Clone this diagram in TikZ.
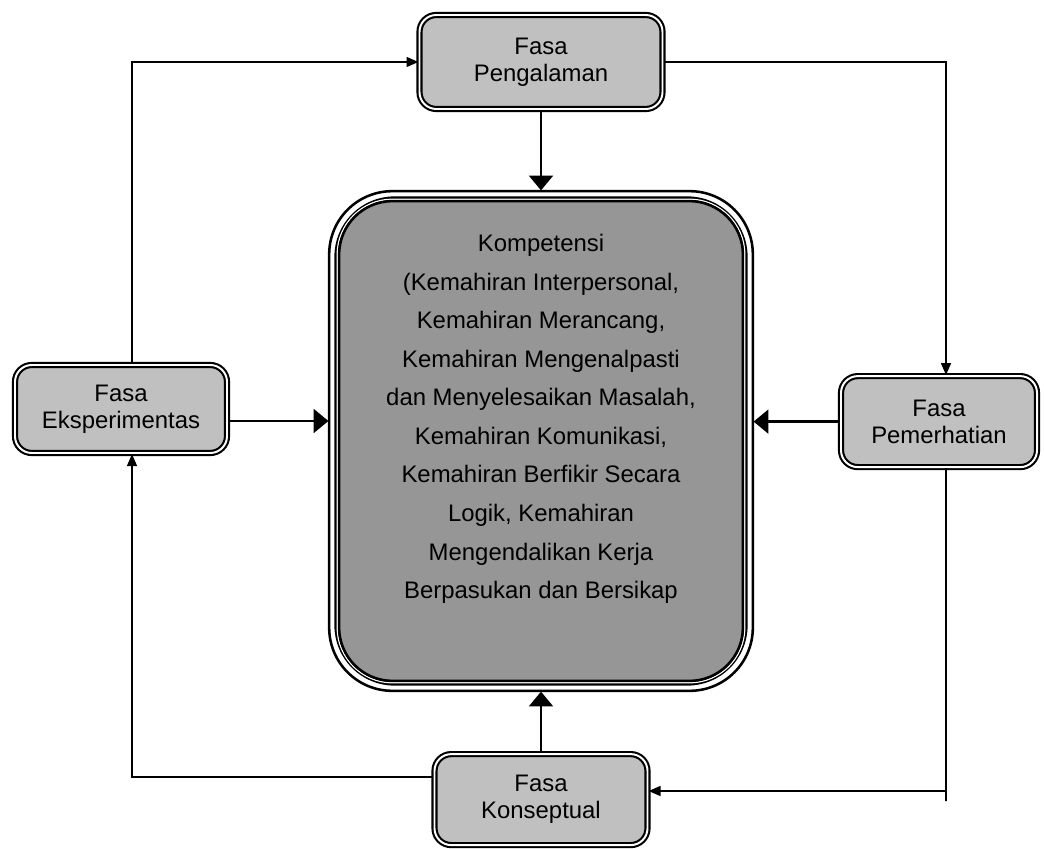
\documentclass[tikz,border=0pt]{standalone}
\usepackage{fontspec}
\setmainfont{Liberation Sans}
\usepackage{tikz}
\usetikzlibrary{arrows.meta,positioning,calc}
\usepackage{xcolor}
\definecolor{fasaGray}{RGB}{192,192,192}
\definecolor{kompGray}{RGB}{150,150,150}

\begin{document}
\begin{tikzpicture}[
  fasa/.style={draw=black,double=white,double distance=1.4pt,line width=1.5pt,
               fill=fasaGray,rounded corners=0.42cm,align=center,inner sep=2pt,
               font=\fontsize{17pt}{19.2pt}\selectfont},
  kompetensi/.style={draw=black,line width=3pt,fill=kompGray,rounded corners=1.45cm,
               minimum width=10.225cm,minimum height=12.125cm},
  looparrow/.style={-{Triangle[length=8.5pt,width=7pt]},line width=1.3pt},
  loopline/.style={line width=1.3pt},
  bigarrow/.style={-{Triangle[length=10.5pt,width=17pt]},line width=1.6pt},
]
\useasboundingbox (0,0) rectangle (26.1,-21.225);

% central box with its three border lines
\node[kompetensi] (komp) at (13.525,-11.025) {};
\draw[line width=1.8pt,rounded corners=1.575cm]
  ([shift={(-0.13,0.13)}]komp.north west) rectangle ([shift={(0.13,-0.13)}]komp.south east);
\draw[white,line width=0.9pt,rounded corners=1.385cm]
  ([shift={(0.07,-0.07)}]komp.north west) rectangle ([shift={(-0.07,0.07)}]komp.south east);
\draw[line width=1.8pt,rounded corners=1.34cm]
  ([shift={(0.1175,-0.1175)}]komp.north west) rectangle ([shift={(-0.1175,0.1175)}]komp.south east);
\node[align=center,font=\fontsize{17pt}{27.4pt}\selectfont] (kompText) at (13.525,-10.475) {
  Kompetensi\\
  (Kemahiran Interpersonal,\\
  Kemahiran Merancang,\\
  Kemahiran Mengenalpasti\\
  dan Menyelesaikan Masalah,\\
  Kemahiran Komunikasi,\\
  Kemahiran Berfikir Secara\\
  Logik, Kemahiran\\
  Mengendalikan Kerja\\
  Berpasukan dan Bersikap
};

% the four phases
\node[fasa,minimum width=6.075cm,minimum height=2.35cm] (peng) at (13.525,-1.55) {Fasa\\Pengalaman};
\node[fasa,minimum width=5.3cm,minimum height=2.2cm] (eks) at (3.025,-10.225) {Fasa\\Eksperimentas};
\node[fasa,minimum width=4.9cm,minimum height=2.275cm] (pem) at (23.475,-10.54) {Fasa\\Pemerhatian};
\node[fasa,minimum width=5.325cm,minimum height=2.275cm] (konsep) at (13.525,-19.99) {Fasa\\Konseptual};

% arrows into the centre
\coordinate (eksOut) at ([yshift=-0.3cm]eks.east);
\draw[bigarrow,shorten >=0.15cm] (peng.south) -- (komp.north);
\draw[bigarrow,shorten >=0.15cm] (konsep.north) -- (komp.south);
\draw[bigarrow,shorten >=0.15cm] (eksOut) -- (eksOut -| komp.west);
\draw[bigarrow,shorten >=0.15cm] (pem.west) -- (pem.west -| komp.east);

% outer cycle
\coordinate (seTurn) at (23.65,-19.775);
\coordinate (seEnd) at (23.65,-20.025);
\draw[looparrow] (peng.east) -| ([xshift=0.175cm]pem.north);
\draw[loopline] ([xshift=0.175cm]pem.south) -- (seEnd);
\draw[looparrow] (seTurn) -- (seTurn -| konsep.east);
\draw[looparrow] ([yshift=0.565cm]konsep.west) -| ([xshift=0.275cm]eks.south);
\draw[looparrow] ([xshift=0.275cm]eks.north) |- (peng.west);
\end{tikzpicture}
\end{document}
